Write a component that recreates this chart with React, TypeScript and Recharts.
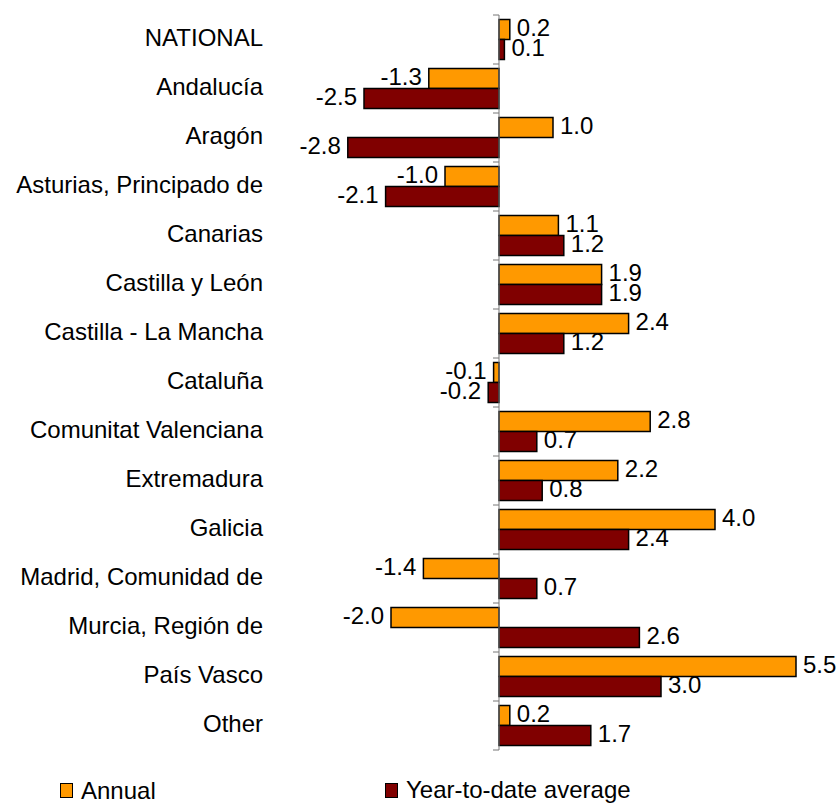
import { Bar, BarChart, LabelList, ReferenceLine, XAxis, YAxis } from "recharts";

const regions = [
  "NATIONAL",
  "Andalucía",
  "Aragón",
  "Asturias, Principado de",
  "Canarias",
  "Castilla y León",
  "Castilla - La Mancha",
  "Cataluña",
  "Comunitat Valenciana",
  "Extremadura",
  "Galicia",
  "Madrid, Comunidad de",
  "Murcia, Región de",
  "País Vasco",
  "Other",
];
const annual = [0.2, -1.3, 1.0, -1.0, 1.1, 1.9, 2.4, -0.1, 2.8, 2.2, 4.0, -1.4, -2.0, 5.5, 0.2];
const ytdAverage = [0.1, -2.5, -2.8, -2.1, 1.2, 1.9, 1.2, -0.2, 0.7, 0.8, 2.4, 0.7, 2.6, 3.0, 1.7];
const xDomain: [number, number] = [-3, 6];

const data = regions.map((name, i) => ({ name, annual: annual[i], ytd: ytdAverage[i] }));

const FONT = '"Liberation Sans", Arial, sans-serif';
const W = 837;
const H = 770;
const MARGIN = { top: 15, right: 14, bottom: 20, left: 0 };
const AXIS_W = 337;
const plotW = W - MARGIN.right - AXIS_W;
const plotH = H - MARGIN.top - MARGIN.bottom;
const band = plotH / regions.length;
// pixel position of zero on the value axis
const zeroX = AXIS_W + ((0 - xDomain[0]) / (xDomain[1] - xDomain[0])) * plotW;

function RegionTick(props: any) {
  const { y, payload, index } = props;
  return (
    <g>
      <text x={263} y={y - 2} textAnchor="end" dominantBaseline="central" fontSize={24} fontFamily={FONT} fill="#000">
        {payload.value}
      </text>
      <line x1={zeroX - 6} x2={zeroX} y1={y - band / 2} y2={y - band / 2} stroke="#777" />
      {index === regions.length - 1 && (
        <line x1={zeroX - 6} x2={zeroX} y1={y + band / 2} y2={y + band / 2} stroke="#777" />
      )}
    </g>
  );
}

function ValueLabel(props: any) {
  const { x, y, width, height, value } = props;
  const v = Number(value);
  const left = Math.min(x, x + width);
  const right = Math.max(x, x + width);
  const tx = v < 0 ? left - 7 : right + 7;
  return (
    <text
      x={tx}
      y={y + height / 2 - 2}
      textAnchor={v < 0 ? "end" : "start"}
      dominantBaseline="central"
      fontSize={24}
      fontFamily={FONT}
      fill="#000"
    >
      {v.toFixed(1)}
    </text>
  );
}

function LegendItem({ color, label }: { color: string; label: string }) {
  return (
    <span style={{ display: "inline-flex", alignItems: "center" }}>
      <span style={{ width: 11, height: 13, background: color, border: "1.5px solid #000", marginRight: 8 }} />
      <span>{label}</span>
    </span>
  );
}

export default function App() {
  return (
    <div style={{ position: "absolute", left: 0, top: 0, width: W, height: 803, background: "#fff", overflow: "hidden" }}>
      <BarChart
        width={W}
        height={H}
        data={data}
        layout="vertical"
        margin={MARGIN}
        barCategoryGap="9%"
        barGap={0}
      >
        <XAxis type="number" domain={xDomain} hide />
        <YAxis
          type="category"
          dataKey="name"
          width={AXIS_W}
          axisLine={false}
          tickLine={false}
          tick={<RegionTick />}
          interval={0}
        />
        <ReferenceLine x={0} stroke="#777" ifOverflow="visible" />
        <Bar dataKey="annual" fill="#FF9900" stroke="#000" strokeWidth={1.5} isAnimationActive={false}>
          <LabelList dataKey="annual" content={<ValueLabel />} />
        </Bar>
        <Bar dataKey="ytd" fill="#800000" stroke="#000" strokeWidth={1.5} isAnimationActive={false}>
          <LabelList dataKey="ytd" content={<ValueLabel />} />
        </Bar>
      </BarChart>
      <div
        style={{
          position: "absolute",
          top: 776,
          left: 60,
          fontFamily: FONT,
          fontSize: 24,
          color: "#000",
          display: "flex",
        }}
      >
        <span style={{ width: 325 }}>
          <LegendItem color="#FF9900" label="Annual" />
        </span>
        <LegendItem color="#800000" label="Year-to-date average" />
      </div>
    </div>
  );
}
